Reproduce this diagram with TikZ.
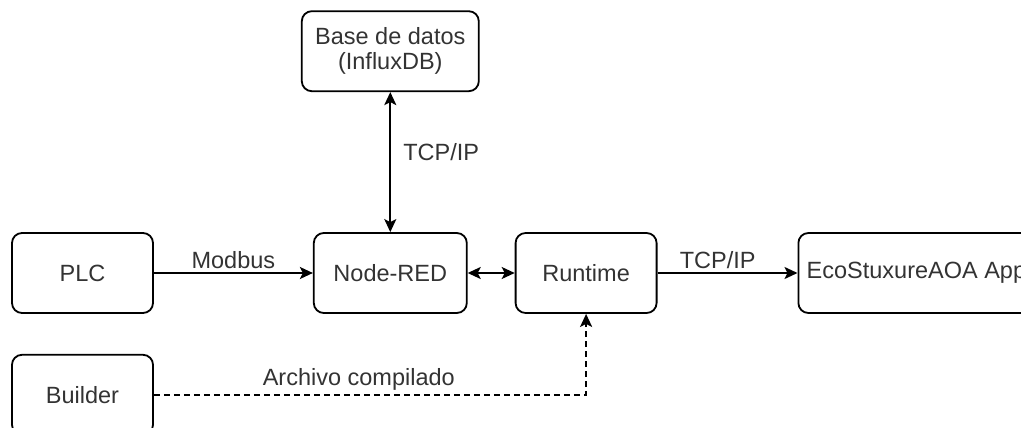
\documentclass[tikz,border=0pt]{standalone}
\usepackage{fontspec}
\setmainfont{Liberation Sans}
\usetikzlibrary{arrows.meta,positioning}
\tikzstyle{block} = [rectangle, draw, rounded corners=10pt, text centered, align=center, minimum height=80pt, minimum width=141pt, text=black!80]
\tikzstyle{link} = [line width=1.9pt]

\begin{document}
\begin{tikzpicture}[auto, node distance=140pt, >={Stealth[length=13pt,width=12pt,inset=3pt]}, font=\fontsize{23.5}{25}\selectfont, line width=1.8pt]
    \clip (0pt,0pt) rectangle (1021pt,-428pt);
    \node[block] at (82.5pt,-273pt) (plc) {PLC};
    \node[block, minimum width=153pt, right=159pt of plc] (nodered) {Node-RED};
    \node[block, right=47pt of nodered] (runtime) {Runtime};
    \node[block, minimum width=236pt, right=140pt of runtime] (app) {EcoStuxureAOA App};
    \node[block, minimum width=177pt, above=140pt of nodered] (db) {Base de datos\\(InfluxDB)};
    \node[block, below=40pt of plc] (builder) {Builder};

    \draw[link, ->] (plc) -- node[text=black!80, inner sep=3pt] {Modbus} (nodered);
    \draw[link, <->] (nodered) -- (runtime);
    \draw[link, ->] (runtime) -- node[pos=0.43, text=black!80, inner sep=3pt] {TCP/IP} (app);
    \draw[link, <->] (db) -- node[pos=0.43, text=black!80, inner sep=12pt] {TCP/IP} (nodered);
    \draw[link, ->, dash pattern=on 6pt off 4pt] (builder) -| node[pos=0.237, text=black!80, inner sep=3pt] {Archivo compilado} (runtime);
\end{tikzpicture}
\end{document}
